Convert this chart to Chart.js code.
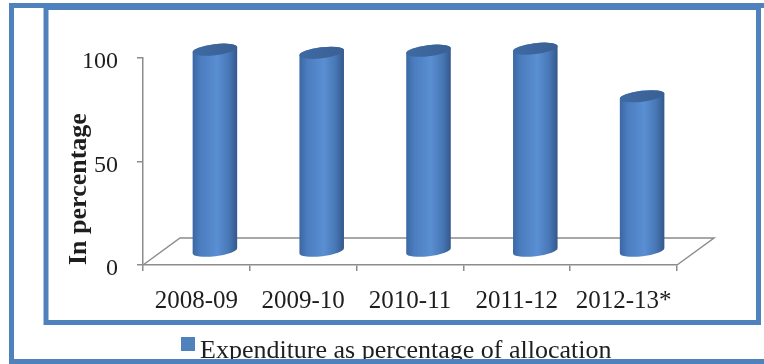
<!DOCTYPE html>
<html>
<head>
<meta charset="utf-8">
<script src="https://cdn.jsdelivr.net/npm/chart.js@4.4.1/dist/chart.umd.min.js"></script>
<style>
  html, body { margin: 0; padding: 0; background: #ffffff; }
  #wrap { width: 764px; height: 364px; position: relative; }
</style>
</head>
<body>
<div id="wrap"><canvas id="c" width="764" height="364"></canvas></div>
<script>
// Chart data
const categories = ['2008-09', '2009-10', '2010-11', '2011-12', '2012-13*'];
const expenditurePct = [97.5, 96, 97, 98, 75];
const yTickValues = [0, 50, 100];
const seriesLabel = 'Expenditure as percentage of allocation';
const yAxisTitle = 'In percentage';

// Styling
const SERIF = "'Liberation Serif', 'Times New Roman', serif";
const FRAME_BLUE = '#4f81bd';
const AXIS_GREY = '#8c8c8c';
const TEXT_DARK = '#1e1e1e';
const DEPTH = { dx: 37, dy: -27 };   // oblique depth of the 3-D floor

// Floor outline behind the bars (front edge is the x-axis border)
const floorPlugin = {
  id: 'floor3d',
  beforeDatasetsDraw(chart) {
    const { ctx } = chart;
    const xs = chart.scales.x, ys = chart.scales.y;
    const y0 = ys.getPixelForValue(0);
    const l = xs.left, r = xs.right;
    ctx.save();
    ctx.strokeStyle = AXIS_GREY;
    ctx.lineWidth = 1.5;
    ctx.beginPath();
    ctx.moveTo(l, y0);
    ctx.lineTo(l + DEPTH.dx, y0 + DEPTH.dy);
    ctx.lineTo(r + DEPTH.dx, y0 + DEPTH.dy);
    ctx.lineTo(r, y0);
    ctx.stroke();
    ctx.restore();
  }
};

// Shaded cylinders placed on the bar elements computed by the scales
const cylinderPlugin = {
  id: 'cylinders',
  afterDatasetsDraw(chart) {
    const { ctx } = chart;
    const meta = chart.getDatasetMeta(0);
    const rot = -0.12;
    meta.data.forEach((el) => {
      const p = el.getProps(['x', 'y', 'base', 'width'], true);
      const cx = p.x + DEPTH.dx / 2;
      const yTop = p.y + DEPTH.dy / 2;
      const yBot = p.base + DEPTH.dy / 2;
      const rx = p.width / 2;
      const ry = 5.5;
      const ex = rx * Math.cos(rot), ey = rx * Math.sin(rot);

      const g = ctx.createLinearGradient(cx - rx, 0, cx + rx, 0);
      g.addColorStop(0, '#3b67a2');
      g.addColorStop(0.18, '#4b7dbf');
      g.addColorStop(0.55, '#5a8fd3');
      g.addColorStop(0.82, '#4776b4');
      g.addColorStop(1, '#33578b');

      ctx.save();
      ctx.beginPath();
      ctx.ellipse(cx, yBot, rx, ry, rot, 0, Math.PI, false);
      ctx.lineTo(cx - ex, yTop - ey);
      ctx.ellipse(cx, yTop, rx, ry, rot, Math.PI, 2 * Math.PI, false);
      ctx.closePath();
      ctx.fillStyle = g;
      ctx.fill();

      const tg = ctx.createLinearGradient(cx - rx, yTop, cx + rx, yTop);
      tg.addColorStop(0, '#3e6aa3');
      tg.addColorStop(1, '#3a6094');
      ctx.beginPath();
      ctx.ellipse(cx, yTop, rx, ry, rot, 0, 2 * Math.PI);
      ctx.fillStyle = tg;
      ctx.fill();
      ctx.restore();
    });
  }
};

// Legend under the plot frame, then the two blue frames
const framePlugin = {
  id: 'frames',
  afterDraw(chart) {
    const { ctx } = chart;
    const ds = chart.data.datasets[0];
    ctx.save();
    ctx.fillStyle = ds.legendColor;
    ctx.fillRect(181, 337, 14, 14);
    ctx.fillStyle = TEXT_DARK;
    ctx.font = '26px ' + SERIF;
    ctx.textBaseline = 'alphabetic';
    ctx.textAlign = 'left';
    ctx.fillText(ds.label, 200, 358);

    ctx.strokeStyle = FRAME_BLUE;
    ctx.lineWidth = 5;
    ctx.strokeRect(11.5, 5.5, 800, 356);
    ctx.strokeRect(46, 7.5, 712.5, 315);
    ctx.restore();
  }
};

const axisFontTicks = { family: SERIF, size: 25 };

new Chart(document.getElementById('c'), {
  type: 'bar',
  data: {
    labels: categories,
    datasets: [{
      label: seriesLabel,
      data: expenditurePct,
      legendColor: FRAME_BLUE,
      backgroundColor: 'rgba(0,0,0,0)',
      borderWidth: 0,
      barPercentage: 0.42,
      categoryPercentage: 1
    }]
  },
  options: {
    responsive: false,
    devicePixelRatio: 1,
    animation: false,
    events: [],
    layout: { padding: { left: 60, right: 87, top: 58, bottom: 49 } },
    plugins: {
      legend: { display: false },
      tooltip: { enabled: false }
    },
    scales: {
      x: {
        type: 'category',
        offset: true,
        grid: { display: true, drawOnChartArea: false, offset: true, tickLength: 6, color: AXIS_GREY, lineWidth: 1.5 },
        border: { display: true, color: AXIS_GREY, width: 1.5 },
        ticks: { font: axisFontTicks, color: TEXT_DARK, padding: 15, maxRotation: 0, autoSkip: false },
        afterFit: (s) => { s.height = 50; }
      },
      y: {
        min: 0,
        max: 100,
        afterBuildTicks: (s) => { s.ticks = yTickValues.map(v => ({ value: v })); },
        grid: { display: true, drawOnChartArea: false, tickLength: 6, color: AXIS_GREY, lineWidth: 1.5 },
        border: { display: true, color: AXIS_GREY, width: 1.5 },
        ticks: { font: { family: SERIF, size: 24 }, color: TEXT_DARK, padding: 19, labelOffset: 4 },
        title: {
          display: true,
          text: yAxisTitle,
          align: 'start',
          color: TEXT_DARK,
          font: { family: SERIF, size: 26, weight: 'bold' },
          padding: { top: 4, bottom: 0 }
        },
        afterFit: (s) => { s.width = 83; }
      }
    }
  },
  plugins: [floorPlugin, cylinderPlugin, framePlugin]
});
</script>
</body>
</html>
